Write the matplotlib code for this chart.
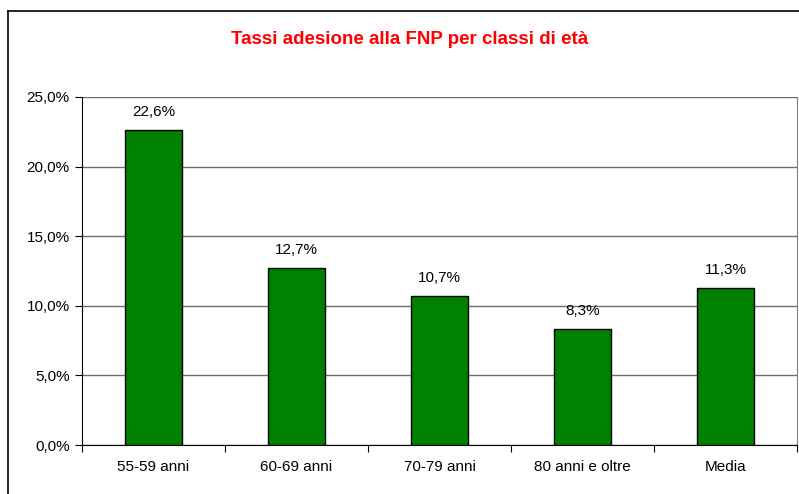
import matplotlib.pyplot as plt
from matplotlib.lines import Line2D
from matplotlib.ticker import FuncFormatter, MultipleLocator

# dati
classi = ['55-59 anni', '60-69 anni', '70-79 anni', '80 anni e oltre', 'Media']
tassi = [22.6, 12.7, 10.7, 8.3, 11.3]

plt.rcParams['font.family'] = ['Liberation Sans', 'DejaVu Sans']

W, H = 799, 494
fig = plt.figure(figsize=(W / 100, H / 100), dpi=100)
ax = fig.add_axes([82 / W, 1 - 445 / H, (797 - 82) / W, (445 - 97) / H])

x = range(len(classi))
bars = ax.bar(x, tassi, width=0.4, color='#008000', edgecolor='black', linewidth=1, zorder=3)

for b, v in zip(bars, tassi):
    ax.annotate(('%.1f%%' % v).replace('.', ','),
                (b.get_x() + b.get_width() / 2, v),
                xytext=(0, 8), textcoords='offset points',
                ha='center', va='bottom', fontsize=11)

ax.set_xlim(-0.5, len(classi) - 0.5)
ax.set_ylim(0, 25)
ax.yaxis.set_major_locator(MultipleLocator(5))
ax.yaxis.set_major_formatter(FuncFormatter(lambda v, p: ('%.1f%%' % v).replace('.', ',')))
ax.yaxis.grid(True, color='#6e6e6e', linewidth=1, zorder=0)

ax.set_xticks([i + 0.5 for i in range(-1, len(classi))], minor=False)
ax.set_xticklabels([])
ax.set_xticks(list(x), minor=True)
ax.set_xticklabels(classi, minor=True)
ax.tick_params(axis='x', which='minor', length=0, pad=11, labelsize=11)
ax.tick_params(axis='x', which='major', length=5, direction='out', color='black')
ax.tick_params(axis='y', length=5, direction='out', labelsize=11, pad=4)

ax.spines['top'].set_visible(False)
ax.spines['right'].set_color('#808080')
ax.spines['left'].set_color('black')
ax.spines['bottom'].set_color('black')

fig.text(410 / W, 1 - 40 / H, 'Tassi adesione alla FNP per classi di età',
         color='red', fontsize=13.5, fontweight='bold', ha='center', va='center')

# cornice esterna
fig.add_artist(Line2D([8 / W, 8 / W], [0, 1 - 11 / H], color='black', linewidth=1.2, transform=fig.transFigure))
fig.add_artist(Line2D([8 / W, 1], [1 - 11 / H, 1 - 11 / H], color='black', linewidth=1.2, transform=fig.transFigure))

fig.savefig('out.png', dpi=100)
